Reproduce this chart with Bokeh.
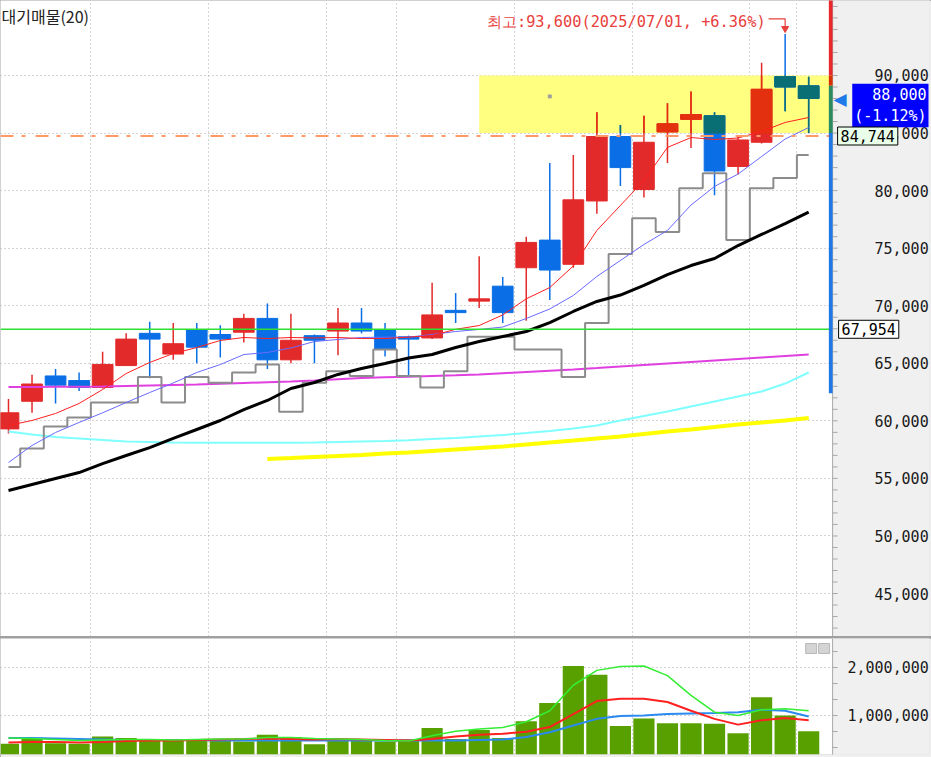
import numpy as np
from bokeh.plotting import figure
from bokeh.models import Range1d, FixedTicker, NumeralTickFormatter, Grid, Label
from bokeh.layouts import column
from bokeh.core.properties import value
from bokeh.embed import file_html
from bokeh.resources import INLINE

# ---------------- data ----------------
opens = [59300, 61700, 63900, 63500, 62900, 64800, 67600, 65800, 67900, 67500, 67700, 68900, 65300, 67400,
         67800, 68500, 67900, 67300, 67200, 69600, 70400, 71700, 73300, 75700, 73600, 79100, 84700, 80100,
         85100, 86200, 86500, 82100, 84200, 89900, 89100]
highs = [61900, 64000, 64500, 64200, 66000, 67600, 68600, 68500, 68500, 68300, 69300, 70200, 69300, 67500,
         69800, 69800, 68500, 67400, 72000, 71100, 74300, 72500, 76000, 82400, 83100, 86800, 85700, 86500,
         87600, 88600, 86800, 84800, 91100, 93600, 89900]
lows = [58900, 60700, 61500, 62600, 62800, 64800, 63700, 65300, 65000, 65500, 66800, 64500, 65000, 65000,
        65700, 67600, 65600, 63900, 67100, 68500, 69800, 68500, 68700, 70500, 73300, 78000, 80400, 79400,
        82400, 83700, 79600, 81400, 84100, 86900, 85000]
closes = [60700, 63200, 63100, 62900, 64900, 67100, 67100, 66700, 66400, 67100, 68900, 65300, 67000, 67000,
          68500, 67800, 66200, 67100, 69200, 69400, 70600, 69400, 75500, 73100, 79200, 84700, 82000, 84200,
          85800, 86600, 81700, 84400, 88800, 89000, 88000]

ma5 = [59600, 60030, 60640, 61510, 62720, 64110, 65070, 65850, 66370, 66980, 67240, 67150, 67240, 67200,
       67240, 67150, 67150, 67270, 67410, 67950, 68280, 69200, 70600, 71580, 73450, 76540, 78710, 80880,
       83750, 84610, 84440, 84570, 85140, 85920, 86350]
ma10 = [56380, 57860, 58990, 59860, 60700, 61590, 62460, 63290, 64200, 64890, 65760, 65940, 66330, 66890,
        67070, 67240, 67270, 67270, 67500, 67760, 67940, 68150, 68890, 69720, 70890, 72540, 73930, 75320,
        76540, 78750, 80360, 81440, 82960, 84480, 85480]
ma20 = [53950, 54470, 54990, 55510, 56290, 56990, 57680, 58470, 59250, 60030, 60980, 61770, 62810, 63330,
        64030, 64550, 64980, 65460, 65760, 66370, 66890, 67330, 67760, 68540, 69500, 70370, 70930, 71760,
        72710, 73490, 74100, 75230, 76190, 77140, 78130]
ma60 = [62940, 62950, 62960, 62970, 62990, 63030, 63070, 63110, 63150, 63220, 63290, 63350, 63410, 63500,
        63610, 63720, 63780, 63840, 63900, 63960, 64030, 64140, 64250, 64360, 64470, 64590, 64720, 64850,
        64980, 65110, 65240, 65370, 65500, 65630, 65760]
ma120 = [59080, 58820, 58600, 58470, 58340, 58210, 58170, 58120, 58090, 58090, 58090, 58090, 58090, 58120,
         58170, 58210, 58250, 58320, 58420, 58510, 58640, 58770, 58940, 59120, 59330, 59600, 60030, 60420,
         60810, 61250, 61680, 62120, 62550, 63240, 64200]
ma240_start = 11
ma240 = [56690, 56770, 56860, 56950, 57030, 57160, 57250, 57380, 57510, 57640, 57770, 57940, 58120, 58290,
         58470, 58640, 58860, 59070, 59250, 59460, 59680, 59860, 60030, 60250]
lag_step = [56000, 57600, 59500, 60300, 61600, 61600, 63800, 61600, 63800, 63300, 64200, 64900, 60800, 63300,
            64300, 63900, 66200, 63900, 62900, 64300, 67300, 67300, 66200, 66200, 63800, 68500, 74500, 77600,
            76400, 80200, 81500, 75700, 80200, 81100, 83100]

volume = [410000, 530000, 420000, 410000, 560000, 530000, 480000, 510000, 510000, 490000, 460000, 600000,
          550000, 400000, 510000, 490000, 460000, 500000, 740000, 510000, 700000, 530000, 880000, 1260000,
          2030000, 1850000, 780000, 940000, 840000, 840000, 830000, 630000, 1380000, 1000000, 670000]
vma5 = [530000, 520000, 500000, 480000, 490000, 500000, 500000, 490000, 500000, 510000, 510000, 540000,
        540000, 520000, 510000, 500000, 480000, 470000, 580000, 670000, 720000, 750000, 870000, 1100000,
        1630000, 1940000, 2020000, 2030000, 1830000, 1420000, 1070000, 1000000, 1120000, 1140000, 1100000]
vma10 = [440000, 450000, 450000, 440000, 450000, 470000, 480000, 480000, 490000, 500000, 510000, 520000,
         510000, 500000, 510000, 500000, 490000, 480000, 510000, 560000, 600000, 620000, 660000, 760000,
         1030000, 1300000, 1350000, 1350000, 1280000, 1100000, 930000, 810000, 900000, 950000, 900000]
vma20 = [530000, 530000, 520000, 510000, 500000, 490000, 490000, 490000, 490000, 480000, 480000, 480000,
         480000, 480000, 480000, 480000, 480000, 480000, 480000, 480000, 490000, 500000, 550000, 650000,
         790000, 930000, 990000, 1000000, 1030000, 1040000, 1050000, 1070000, 1120000, 1100000, 980000]

support_level = 67954
resist_level = 84744
zone_low, zone_high, zone_start = 85000, 90000, 20
gauge_bottoms = [90000, 89100, 85000, 62400]
gauge_tops = [97000, 90000, 89100, 85000]
gauge_colors = ["#e8282c", "#d83000", "#2a8a60", "#1e78e6"]
week_breaks = [3, 8, 13, 16, 21, 26, 31, 33]
price_ticks = list(range(45000, 95000, 5000))
price_minor = list(range(41000, 97000, 1000))
vol_ticks = [1000000, 2000000]
vol_minor = [333333, 666667, 1000000, 1333333, 1666667, 2000000, 2333333]
last_close, prev_close = closes[-1], closes[-2]
top_idx = int(np.argmax(highs))
top_price = highs[top_idx]
top_date = "2025/07/01"

# ---------------- geometry ----------------
n = len(opens)
x = np.arange(n)
o = np.array(opens); c = np.array(closes); h = np.array(highs); l = np.array(lows)
PX = 23.56                      # pixels per candle
X0 = -8 / PX                    # left edge of frame
X1 = X0 + 930 / PX              # right edge of frame
AX = X0 + 833 / PX              # start of the axis strip
TK = 5 / PX                     # tick length
PY0, PY1 = 41266, 96515
VY0, VY1 = 187500, 2604000

RED, BLUE = "#e32a2a", "#0a6fe6"
RED_Z, BLUE_Z = "#e3300f", "#0a6f74"
up = c >= o
cols = [RED if u else BLUE for u in up]
body_top = np.maximum(o, c); body_bot = np.minimum(o, c)
MONO = "DejaVu Sans Mono"
GRAYBG = "#f0f0f0"
TICKC = "#a8a8a8"


def style_axis(axis, ticks, standoff):
    axis.ticker = FixedTicker(ticks=ticks)
    axis.formatter = NumeralTickFormatter(format="0,0")
    axis.major_label_text_font = MONO
    axis.major_label_text_font_size = "15px"
    axis.major_label_text_color = "#1a1a1a"
    axis.major_label_standoff = standoff
    axis.major_tick_out = 0; axis.major_tick_in = 0
    axis.minor_tick_out = 0; axis.minor_tick_in = 0
    axis.axis_line_color = None
    axis.major_tick_line_color = None
    axis.minor_tick_line_color = None


# ---------------- price panel ----------------
p = figure(width=931, height=636, x_range=Range1d(X0, X1), y_range=Range1d(PY0, PY1),
           output_backend="svg", toolbar_location=None, x_axis_location=None, y_axis_location="right",
           min_border_left=0, min_border_top=0, min_border_bottom=0, min_border_right=1,
           background_fill_color="white", border_fill_color=GRAYBG, outline_line_color=None)
p.grid.visible = False
style_axis(p.yaxis[0], price_ticks, -55)

p.add_layout(Grid(dimension=1, ticker=FixedTicker(ticks=price_ticks), grid_line_color=TICKC,
                  grid_line_dash="1 3", grid_line_width=1))
p.add_layout(Grid(dimension=0, ticker=FixedTicker(ticks=[b + 0.5 for b in week_breaks]),
                  grid_line_color=TICKC, grid_line_dash="1 3", grid_line_width=1))

# supply zone
p.quad(left=[zone_start], right=[AX], bottom=[zone_low], top=[zone_high],
       fill_color="#ffff80", line_color=None)
p.scatter([23], [88180], size=3, marker="square", color="#a0a0a0")

# candles
p.segment(x, h, x, l, color=cols, line_width=1.5)
p.vbar(x=x, width=0.88, top=body_top, bottom=body_bot, fill_color=cols, line_color=cols)

# candle parts inside the zone (tinted like the reference)
zx, zt, zb, zc, wx, wt, wb, wc = [], [], [], [], [], [], [], []
for i in range(zone_start, n):
    col = RED_Z if up[i] else BLUE_Z
    hi_, lo_ = min(h[i], zone_high), max(l[i], zone_low)
    if hi_ > lo_:
        wx.append(i); wt.append(hi_); wb.append(lo_); wc.append(col)
    hi_, lo_ = min(body_top[i], zone_high), max(body_bot[i], zone_low)
    if hi_ > lo_:
        zx.append(i); zt.append(hi_); zb.append(lo_); zc.append(col)
p.segment(wx, wt, wx, wb, color=wc, line_width=1.5)
p.vbar(x=zx, width=0.88, top=zt, bottom=zb, fill_color=zc, line_color=zc)

# moving averages
p.line(x, ma120, color="#80ffff", line_width=2)
p.line(x[ma240_start:], ma240, color="#ffff00", line_width=4)
p.line(x, ma60, color="#e040e0", line_width=2)
p.step(x, lag_step, mode="center", color="#8c8c8c", line_width=2)
p.line(x, ma20, color="#000000", line_width=3)
p.line(x, ma10, color="#6a6aff", line_width=1)
p.line(x, ma5, color="#ff2020", line_width=1)

p.line([X0, AX], [support_level, support_level], color="#30e030", line_width=1.5)
p.line([X0, AX], [resist_level, resist_level], color="#ff9966", line_width=2, line_dash="13 8 4 10")

# axis strip
p.quad(left=[AX], right=[X1 + 1], bottom=[PY0], top=[PY1], fill_color=GRAYBG, line_color=None)
p.segment([AX], [PY0], [AX], [PY1], color=TICKC, line_width=1)
p.segment([AX] * len(price_minor), price_minor, [AX + TK] * len(price_minor), price_minor,
          color=TICKC, line_width=1)

# price gauge at the right edge of the plot
p.quad(left=[AX - 0.16] * 4, right=[AX] * 4, bottom=gauge_bottoms, top=gauge_tops,
       fill_color=gauge_colors, line_color=None)

# highest-price annotation
hi_text = f"최고:{top_price:,}({top_date}, +{(top_price / last_close - 1) * 100:.2f}%)"
p.add_layout(Label(x=20.33, y=94630, text=hi_text, text_font=MONO, text_font_size="15.3px",
                   text_color="#e8403c", text_baseline="middle", text_align="left"))
p.line([32.3, top_idx, top_idx], [94925, 94925, 94250], color="#e8403c", line_width=1.2)
p.scatter([top_idx], [94080], marker="inverted_triangle", size=7, color="#e8403c")

# title
p.add_layout(Label(x=X0 + 1 / PX, y=95130, text="대기매물(20)", text_font="Noto Sans CJK KR",
                   text_font_size="16px", text_color="#222222", text_baseline="alphabetic"))

# right-side price tags
p.add_layout(Label(x=AX + 1 / PX, y=last_close, text="◀", text_font="DejaVu Sans",
                   text_font_size="17px", text_color="#1e7ae8", text_baseline="middle",
                   text_align="left", level="overlay"))
chg = (last_close / prev_close - 1) * 100
p.add_layout(Label(x=X0 + 929 / PX, y=87400, text=f"{last_close:,}\n({chg:.2f}%)", text_font=MONO,
                   text_font_size="15px", text_color="#ffffff", text_align="right",
                   text_baseline="middle", background_fill_color="#0000ff", padding=2, level="overlay"))
p.add_layout(Label(x=AX + 5 / PX, y=resist_level, text=f"{resist_level:,}", text_font=MONO,
                   text_font_size="15px", text_color="#000000", text_baseline="middle",
                   background_fill_color="#eaffea", border_line_color="#000000", border_line_width=1,
                   padding=3, level="overlay"))
p.add_layout(Label(x=AX + 6 / PX, y=support_level, text=f"{support_level:,}", text_font=MONO,
                   text_font_size="15px", text_color="#000000", text_baseline="middle",
                   background_fill_color="#ffffff", border_line_color="#000000", border_line_width=1,
                   padding=3, level="overlay"))

# ---------------- volume panel ----------------
pv = figure(width=931, height=119, x_range=p.x_range, y_range=Range1d(VY0, VY1),
            output_backend="svg", toolbar_location=None, x_axis_location=None, y_axis_location="right",
            min_border_left=0, min_border_top=0, min_border_bottom=3, min_border_right=1,
            background_fill_color="white", border_fill_color=GRAYBG, outline_line_color=None)
pv.grid.visible = False
style_axis(pv.yaxis[0], vol_ticks, -82)
pv.add_layout(Grid(dimension=1, ticker=FixedTicker(ticks=vol_ticks), grid_line_color=TICKC,
                   grid_line_dash="1 3"))
pv.add_layout(Grid(dimension=0, ticker=FixedTicker(ticks=[b + 0.5 for b in week_breaks]),
                   grid_line_color=TICKC, grid_line_dash="1 3"))

pv.vbar(x=x, width=0.9, top=volume, bottom=0, fill_color="#58a000", line_color=None)
pv.line(x, vma20, color="#2a8af0", line_width=2)
pv.line(x, vma10, color="#ff2020", line_width=2)
pv.line(x, vma5, color="#33ee33", line_width=1.5)

pv.quad(left=[AX], right=[X1 + 1], bottom=[0], top=[VY1], fill_color=GRAYBG, line_color=None)
pv.segment([AX], [0], [AX], [VY1], color=TICKC, line_width=1)
pv.segment([AX] * len(vol_minor), vol_minor, [AX + TK] * len(vol_minor), vol_minor,
           color=TICKC, line_width=1)

pv.rect(x=[X0 + 811.5 / PX, X0 + 824.5 / PX], y=[2396000, 2396000], width=11, height=10,
        width_units="screen", height_units="screen", fill_color="#d4d4d4", line_color="#b8b8b8")

layout = column(p, pv, spacing=2, styles={"background-color": "#a0a0a0"})
open("out.html", "w").write(file_html(layout, INLINE))
